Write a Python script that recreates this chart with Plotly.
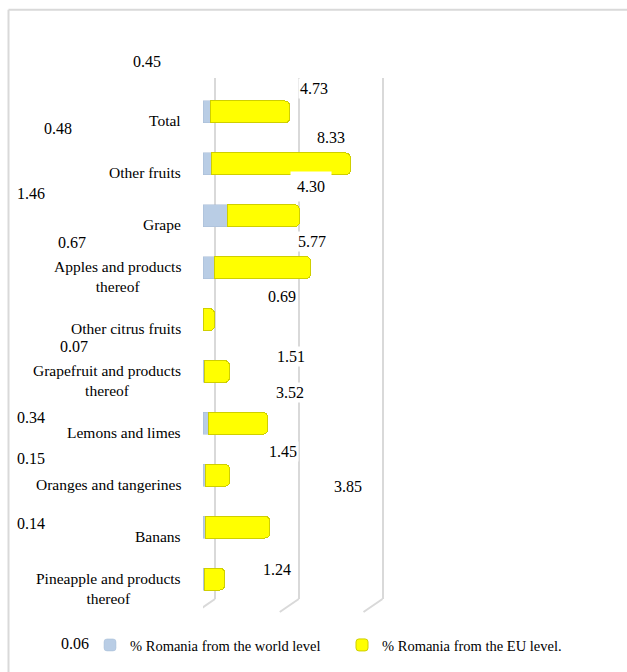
import plotly.graph_objects as go

# ---------------- data ----------------
categories = [
    "Total",
    "Other fruits",
    "Grape",
    "Apples and products<br>thereof",
    "Other citrus fruits",
    "Grapefruit and products<br>thereof",
    "Lemons and limes",
    "Oranges and tangerines",
    "Banans",
    "Pineapple and products<br>thereof",
]
world_level = [0.45, 0.48, 1.46, 0.67, 0.0, 0.07, 0.34, 0.15, 0.14, 0.06]
eu_level = [4.73, 8.33, 4.30, 5.77, 0.69, 1.51, 3.52, 1.45, 3.85, 1.24]
grid_ticks = [0, 5, 10]
series_names = ["% Romania from the world level", "% Romania from the EU level."]

# ---------------- label placement (value-axis units / category index, as in the original) ----------------
world_label_pos = [(-3.34, -0.98), (-8.66, 0.31), (-10.27, 1.58), (-7.82, 2.52), None,
                   (-7.70, 4.52), (-10.27, 5.88), (-10.27, 6.67), (-10.27, 7.92), (-7.64, 10.25)]
eu_label_pos = [(6.63, -0.46), (7.64, 0.50), (6.45, 1.44), (6.51, 2.50), (4.72, 3.56),
                (5.25, 4.71), (5.19, 5.40), (4.78, 6.54), (8.66, 7.21), (4.42, 8.81)]

FONT = "Liberation Serif, Times New Roman, serif"
BLUE = "#B9CDE5"
YELLOW = "#FFFF00"
GRID = "#D9D9D9"

W, H = 627, 672
ML, MR, MT, MB = 203, 22, 78, 59
PW = W - ML - MR          # 402
PH = H - MT - MB          # 535
XMAX = 24
YRANGE = [9.5, -0.5]
pxu = PW / XMAX           # px per unit
depth_dx = 12 / pxu       # 3D back-wall offset


def to_domain(xv, yv):
    """value-axis / category coordinates -> fractions of the bar subplot domain"""
    return xv / XMAX, (YRANGE[0] - yv) / (YRANGE[0] - YRANGE[1])


fig = go.Figure()

# grid subplot (behind the bars)
fig.add_trace(go.Scatter(x=[0], y=[0], mode="markers", marker=dict(opacity=0),
                         showlegend=False, hoverinfo="skip", xaxis="x", yaxis="y"))

# bars
fig.add_trace(go.Bar(y=categories, x=world_level, orientation="h", name=series_names[0],
                     marker=dict(color=BLUE, line=dict(color="#A7BCD6", width=0.5)),
                     xaxis="x2", yaxis="y2"))
fig.add_trace(go.Bar(y=categories, x=eu_level, orientation="h", name=series_names[1],
                     marker=dict(color=YELLOW, line=dict(color="#CFCF00", width=1)),
                     xaxis="x2", yaxis="y2"))

annotations = []
for i, cat in enumerate(categories):
    annotations.append(dict(x=0, y=i, xref="x2", yref="y2", text=cat, showarrow=False,
                            xanchor="right", yanchor="middle", xshift=-20, yshift=-9,
                            align="center", font=dict(family=FONT, size=15.5, color="#000")))
for v, pos in zip(world_level, world_label_pos):
    if pos is None:
        continue
    dx, dy = to_domain(*pos)
    annotations.append(dict(x=dx, y=dy, xref="x2 domain", yref="y2 domain", text=f"{v:.2f}",
                            xanchor="center", yanchor="middle", showarrow=False,
                            font=dict(family=FONT, size=16, color="#000")))
for i, (v, pos) in enumerate(zip(eu_level, eu_label_pos)):
    pad = 6 if i in (2, 9) else 1
    dx, dy = to_domain(*pos)
    annotations.append(dict(x=dx, y=dy, xref="x2 domain", yref="y2 domain", text=f"{v:.2f}",
                            xanchor="center", yanchor="middle", showarrow=False,
                            bgcolor="white", borderpad=pad,
                            font=dict(family=FONT, size=16, color="#000")))

shapes = []
grid_bottom = 13 / PH
for t in grid_ticks:
    shapes.append(dict(type="line", xref="x", yref="paper", x0=t, y0=grid_bottom,
                       x1=t - 19 / pxu, y1=0, line=dict(color=GRID, width=2), layer="below"))
# outer chart frame
top_y = (PH + MT - 9.5) / PH
left_x = (8.5 - ML) / PW
shapes.append(dict(type="line", xref="paper", yref="paper", x0=left_x, x1=1.2,
                   y0=top_y, y1=top_y, line=dict(color=GRID, width=2)))
shapes.append(dict(type="line", xref="paper", yref="paper", x0=left_x, x1=left_x,
                   y0=top_y, y1=-0.2, line=dict(color=GRID, width=2)))

fig.update_layout(
    width=W, height=H,
    margin=dict(l=ML, r=MR, t=MT, b=MB),
    paper_bgcolor="white", plot_bgcolor="rgba(0,0,0,0)",
    barmode="stack", bargap=0.577, barcornerradius=5,
    font=dict(family=FONT, size=15, color="#000"),
    xaxis=dict(domain=[0, 1], range=[-depth_dx, XMAX - depth_dx], tickvals=grid_ticks,
               showgrid=True, gridcolor=GRID, gridwidth=2, showticklabels=False,
               zeroline=False, showline=False, ticks="", anchor="y"),
    yaxis=dict(domain=[grid_bottom, 1], range=[0, 1], visible=False, anchor="x"),
    xaxis2=dict(domain=[0, 1], range=[0, XMAX], visible=False, anchor="y2"),
    yaxis2=dict(domain=[(613 - 606) / PH, (613 - 86) / PH], type="category",
                categoryorder="array", categoryarray=categories, range=YRANGE,
                visible=False, anchor="x2"),
    annotations=annotations,
    shapes=shapes,
    showlegend=True,
    legend=dict(orientation="h", x=(90 - ML) / PW, xanchor="left", y=(613 - 645) / PH,
                yanchor="middle", font=dict(family=FONT, size=14.5, color="#000"),
                entrywidth=207, entrywidthmode="pixels", traceorder="normal",
                bgcolor="rgba(0,0,0,0)"),
)

fig.write_html("out.html")
